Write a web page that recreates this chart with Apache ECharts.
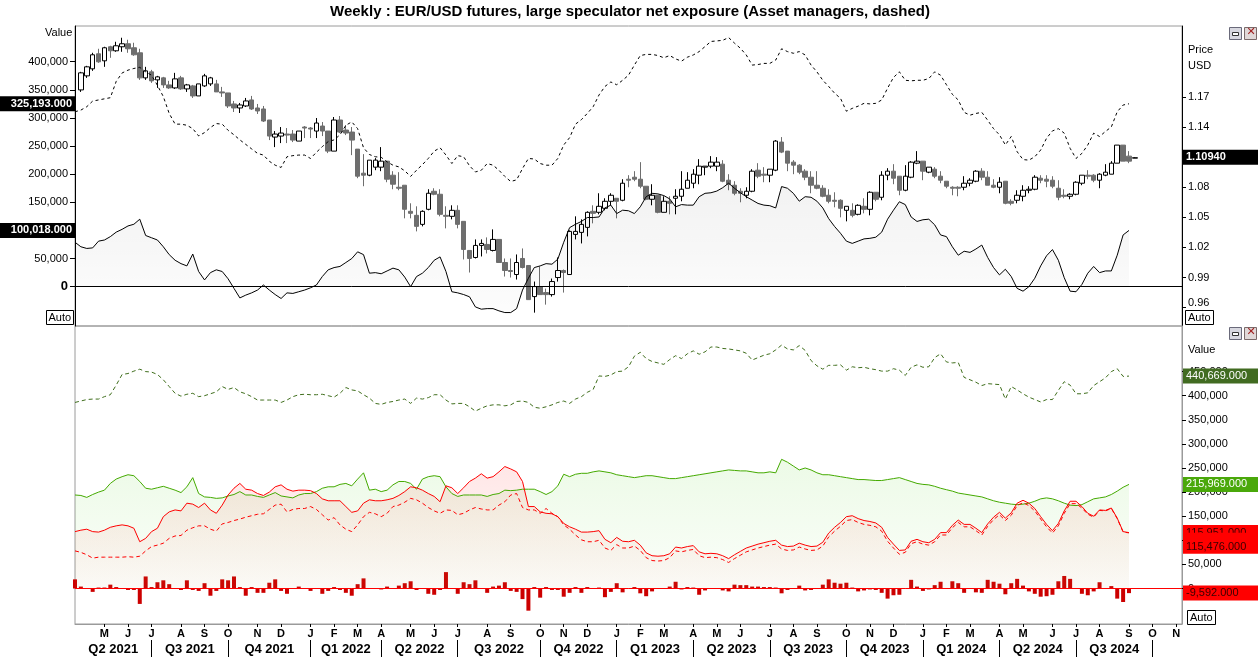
<!DOCTYPE html>
<html><head><meta charset="utf-8">
<script src="https://cdn.jsdelivr.net/npm/echarts@6/dist/echarts.min.js"></script>
<style>html,body{margin:0;padding:0;background:#fff}#c{width:1260px;height:660px}</style>
</head><body><div id="c"></div>
<script>
// ---------- DATA ----------
const firstWeek = '2021-04-02';   // weekly bars (Fridays)
const weekSlots = 189;            // slots on the time axis (data + empty future)
const MONTH_LETTERS = ['J','F','M','A','M','J','J','A','S','O','N','D'];
const quarterNames = ['Q2 2021','Q3 2021','Q4 2021','Q1 2022','Q2 2022','Q3 2022','Q4 2022','Q1 2023','Q2 2023','Q3 2023','Q4 2023','Q1 2024','Q2 2024','Q3 2024'];
const topValueTicks = [0,50000,100000,150000,200000,250000,300000,350000,400000];
const priceTicks = [0.96,0.99,1.02,1.05,1.08,1.14,1.17];
const bottomValueTicks = [0,50000,100000,150000,200000,250000,300000,350000,400000,450000];

// EUR/USD weekly candles [open, close, low, high]
const eurusd = ['-',
[1.177,1.194,1.175,1.195],[1.191,1.200,1.189,1.201],[1.198,1.212,1.196,1.214],[1.213,1.205,1.204,1.218],[1.206,1.219,1.200,1.220],
[1.220,1.216,1.209,1.221],[1.216,1.221,1.215,1.225],[1.220,1.223,1.215,1.229],[1.223,1.218,1.214,1.227],[1.219,1.212,1.211,1.224],
[1.214,1.189,1.187,1.218],[1.189,1.196,1.187,1.200],[1.195,1.186,1.184,1.197],[1.187,1.190,1.179,1.191],[1.189,1.182,1.179,1.190],
[1.182,1.179,1.178,1.186],[1.179,1.188,1.178,1.194],[1.189,1.178,1.177,1.191],[1.178,1.182,1.175,1.183],[1.181,1.171,1.169,1.182],
[1.171,1.183,1.171,1.183],[1.181,1.191,1.180,1.193],[1.183,1.189,1.181,1.190],[1.183,1.175,1.175,1.187],[1.175,1.174,1.170,1.180],
[1.174,1.161,1.159,1.174],[1.163,1.159,1.155,1.166],[1.159,1.162,1.154,1.164],[1.161,1.166,1.160,1.169],[1.167,1.158,1.157,1.171],
[1.159,1.156,1.153,1.163],[1.158,1.146,1.145,1.161],[1.147,1.131,1.127,1.147],[1.130,1.133,1.120,1.136],[1.131,1.134,1.124,1.140],
[1.133,1.132,1.124,1.139],[1.133,1.127,1.125,1.137],[1.126,1.136,1.126,1.136],[1.140,1.139,1.129,1.141],[1.139,1.138,1.129,1.140],
[1.136,1.144,1.129,1.149],[1.141,1.136,1.131,1.145],[1.136,1.116,1.114,1.136],[1.116,1.147,1.116,1.150],[1.147,1.135,1.134,1.151],
[1.137,1.134,1.132,1.142],[1.135,1.127,1.112,1.140],[1.118,1.091,1.089,1.118],[1.094,1.092,1.081,1.113],[1.092,1.107,1.091,1.107],
[1.100,1.107,1.097,1.109],[1.100,1.106,1.096,1.120],[1.106,1.088,1.085,1.106],[1.092,1.083,1.078,1.096],[1.080,1.079,1.077,1.095],
[1.082,1.058,1.049,1.082],[1.056,1.054,1.049,1.064],[1.052,1.041,1.036,1.061],[1.043,1.056,1.041,1.057],[1.058,1.074,1.057,1.078],
[1.076,1.073,1.072,1.079],[1.073,1.053,1.051,1.078],[1.052,1.051,1.039,1.061],[1.051,1.057,1.048,1.062],[1.057,1.043,1.039,1.062],
[1.046,1.018,1.008,1.046],[1.017,1.009,0.995,1.017],[1.010,1.022,1.009,1.028],[1.022,1.024,1.011,1.028],[1.023,1.018,1.014,1.030],
[1.017,1.028,1.016,1.038],[1.028,1.005,1.005,1.028],[1.005,0.997,0.991,1.009],[0.997,0.996,0.990,1.009],[0.993,1.005,0.988,1.013],
[1.009,1.000,0.999,1.019],[1.002,0.968,0.968,1.002],[0.971,0.981,0.955,0.986],[0.981,0.973,0.973,1.001],[0.975,0.973,0.963,0.979],
[0.973,0.986,0.971,0.989],[0.990,0.997,0.986,1.010],[0.997,0.995,0.975,0.998],[0.993,1.036,0.993,1.037],[1.033,1.036,1.028,1.051],
[1.035,1.043,1.024,1.048],[1.040,1.055,1.031,1.056],[1.056,1.054,1.044,1.062],[1.055,1.061,1.053,1.074],[1.059,1.066,1.057,1.069],
[1.066,1.072,1.062,1.074],[1.069,1.066,1.049,1.069],[1.067,1.084,1.066,1.088],[1.088,1.087,1.080,1.092],[1.090,1.088,1.086,1.096],
[1.088,1.081,1.079,1.105],[1.081,1.068,1.067,1.081],[1.068,1.072,1.062,1.083],[1.072,1.055,1.054,1.072],[1.055,1.066,1.055,1.071],
[1.066,1.064,1.053,1.071],[1.069,1.071,1.053,1.078],[1.071,1.078,1.066,1.096],[1.079,1.087,1.079,1.095],[1.084,1.093,1.079,1.098],
[1.092,1.101,1.083,1.108],[1.100,1.101,1.092,1.101],[1.101,1.105,1.099,1.111],[1.101,1.105,1.096,1.110],[1.103,1.086,1.085,1.107],
[1.087,1.083,1.077,1.093],[1.082,1.074,1.072,1.086],[1.076,1.074,1.065,1.079],[1.072,1.076,1.069,1.080],[1.076,1.096,1.075,1.098],
[1.097,1.091,1.089,1.104],[1.093,1.092,1.085,1.100],[1.092,1.098,1.085,1.098],[1.097,1.126,1.096,1.127],[1.125,1.115,1.114,1.130],
[1.116,1.104,1.096,1.116],[1.105,1.102,1.093,1.107],[1.102,1.095,1.093,1.103],[1.096,1.090,1.087,1.098],[1.090,1.082,1.074,1.096],
[1.082,1.079,1.078,1.096],[1.079,1.071,1.070,1.082],[1.072,1.066,1.064,1.078],[1.067,1.066,1.060,1.075],[1.067,1.059,1.050,1.068],
[1.057,1.061,1.046,1.061],[1.057,1.052,1.050,1.064],[1.053,1.062,1.052,1.063],[1.061,1.058,1.054,1.069],[1.058,1.075,1.052,1.076],
[1.075,1.068,1.066,1.075],[1.070,1.092,1.067,1.096],[1.092,1.096,1.087,1.099],[1.096,1.089,1.083,1.103],[1.091,1.077,1.072,1.091],
[1.077,1.091,1.076,1.102],[1.090,1.105,1.089,1.106],[1.104,1.106,1.103,1.116],[1.106,1.096,1.087,1.106],[1.095,1.100,1.094,1.100],
[1.098,1.091,1.089,1.100],[1.091,1.087,1.084,1.096],[1.086,1.081,1.079,1.086],[1.080,1.079,1.072,1.081],[1.080,1.079,1.071,1.081],
[1.080,1.084,1.077,1.091],[1.084,1.087,1.081,1.089],[1.086,1.096,1.085,1.097],[1.096,1.090,1.087,1.099],[1.090,1.082,1.082,1.096],
[1.082,1.080,1.079,1.088],[1.080,1.085,1.074,1.090],[1.086,1.064,1.063,1.086],[1.066,1.064,1.062,1.068],[1.067,1.072,1.064,1.077],
[1.071,1.077,1.066,1.082],[1.077,1.078,1.074,1.081],[1.078,1.090,1.077,1.092],[1.089,1.087,1.084,1.092],[1.088,1.086,1.080,1.092],
[1.087,1.081,1.079,1.091],[1.079,1.070,1.067,1.087],[1.072,1.071,1.069,1.078],[1.071,1.073,1.068,1.074],[1.073,1.085,1.072,1.086],
[1.084,1.092,1.082,1.092],[1.092,1.091,1.088,1.097],[1.092,1.087,1.085,1.093],[1.087,1.093,1.079,1.094],[1.092,1.095,1.091,1.103],
[1.093,1.104,1.093,1.106],[1.104,1.122,1.104,1.122],[1.122,1.106,1.106,1.122],[1.111,1.106,1.104,1.116],[1.109,1.1094,1.109,1.110]
];

// Large speculators net exposure (contracts)
const netExposure = [79000,71000,68000,69000,81000,83000,89000,97000,102000,108000,
111000,120000,91000,87000,83000,71000,57000,47000,41000,37000,
58000,27000,12000,25000,30000,27000,14000,-3000,-20000,-15000,
-11000,-6000,3000,-6000,-14000,-21000,-11000,-12000,-9000,-6000,
-2000,3000,18000,30000,34000,36000,43000,50000,62000,57000,
24000,25000,23000,28000,33000,30000,17000,0,18000,24000,
34000,47000,53000,27000,-9000,-11000,-14000,-18000,-36000,-40000,
-39000,-39000,-43000,-46000,-46000,-39000,-6000,15000,34000,37000,
41000,40000,49000,79000,105000,111000,116000,123000,123000,124000,
140000,145000,130000,136000,135000,130000,142000,160000,166000,165000,
162000,156000,142000,146000,145000,145000,160000,166000,167000,170000,
176000,184000,175000,167000,160000,154000,148000,145000,144000,140000,
178000,175000,166000,152000,160000,159000,152000,140000,121000,107000,
95000,81000,77000,81000,85000,86000,88000,97000,120000,136000,
151000,146000,124000,116000,119000,120000,110000,92000,89000,71000,
56000,63000,61000,67000,74000,52000,34000,21000,31000,18000,
-3000,-8000,0,15000,37000,55000,66000,47000,16000,-8000,
-9000,4000,24000,36000,25000,28000,28000,56000,92000,100018];

// Asset managers net exposure (contracts)
const amNet = [311000,314000,320000,330000,332000,334000,336000,365000,380000,385000,
388000,390000,382000,376000,358000,338000,308000,289000,289000,287000,
281000,268000,274000,283000,290000,289000,278000,270000,261000,253000,
245000,237000,234000,223000,216000,212000,231000,233000,234000,234000,
228000,239000,249000,258000,261000,270000,287000,293000,281000,247000,
235000,231000,230000,222000,216000,213000,206000,196000,207000,217000,
228000,241000,247000,234000,219000,233000,231000,215000,204000,207000,
219000,216000,207000,196000,187000,190000,210000,228000,227000,219000,
216000,216000,228000,252000,265000,289000,297000,308000,320000,341000,
356000,364000,359000,367000,376000,394000,411000,413000,413000,411000,
407000,411000,405000,401000,408000,412000,418000,427000,436000,437000,
438000,443000,433000,424000,412000,394000,395000,397000,397000,403000,
423000,418000,415000,418000,412000,394000,382000,367000,356000,344000,
335000,312000,317000,321000,326000,325000,326000,332000,353000,372000,
382000,367000,366000,367000,367000,370000,382000,376000,359000,342000,
332000,310000,305000,308000,310000,296000,281000,270000,252000,267000,
240000,226000,225000,231000,243000,264000,277000,281000,273000,246000,
228000,237000,252000,273000,267000,276000,284000,311000,323000,325193];

// Large speculators long positions
const specLong = [194000,193000,189000,195000,200000,204000,218000,227000,232000,236000,
234000,222000,208000,206000,209000,212000,208000,204000,199000,211000,
230000,197000,190000,189000,187000,188000,192000,195000,201000,194000,
194000,191000,189000,194000,199000,192000,190000,188000,194000,197000,
197000,201000,208000,211000,211000,216000,218000,213000,227000,240000,
204000,206000,201000,204000,215000,222000,222000,218000,206000,227000,
232000,234000,232000,211000,197000,191000,194000,194000,194000,194000,
191000,195000,197000,204000,203000,204000,206000,206000,206000,201000,
195000,201000,213000,237000,232000,237000,239000,239000,242000,244000,
242000,240000,236000,234000,232000,230000,232000,234000,234000,232000,
230000,228000,228000,230000,232000,234000,236000,238000,240000,242000,
244000,246000,245000,244000,244000,242000,240000,240000,242000,240000,
268000,262000,254000,246000,250000,246000,240000,236000,236000,234000,
232000,230000,228000,226000,226000,225000,224000,224000,226000,228000,
230000,226000,222000,218000,216000,215000,212000,208000,205000,202000,
198000,196000,194000,192000,190000,186000,182000,179000,177000,175000,
174000,175000,177000,181000,186000,188000,186000,182000,177000,173000,
172000,174000,180000,186000,188000,190000,195000,202000,210000,215969];

// Large speculators short positions
const specShort = [118000,121000,123000,118000,117000,121000,127000,130000,132000,130000,
125000,97000,104000,118000,125000,149000,159000,163000,161000,177000,
175000,168000,177000,163000,156000,173000,194000,208000,218000,206000,
204000,197000,193000,200000,211000,215000,206000,202000,204000,204000,
203000,197000,186000,182000,182000,182000,170000,158000,161000,177000,
184000,182000,182000,184000,187000,193000,201000,211000,209000,204000,
197000,191000,180000,213000,209000,197000,209000,222000,229000,238000,
229000,232000,242000,253000,248000,242000,222000,170000,170000,159000,
156000,155000,149000,135000,128000,123000,117000,117000,118000,120000,
102000,95000,106000,98000,97000,100000,90000,74000,68000,67000,
68000,72000,86000,84000,87000,89000,76000,72000,73000,72000,
68000,62000,70000,77000,84000,88000,92000,95000,98000,100000,
90000,87000,88000,94000,90000,87000,88000,96000,115000,127000,
137000,149000,151000,145000,141000,139000,136000,127000,106000,92000,
79000,80000,98000,102000,97000,95000,102000,116000,116000,131000,
142000,133000,133000,125000,116000,134000,148000,158000,146000,157000,
177000,183000,177000,166000,149000,133000,120000,135000,161000,181000,
181000,170000,156000,150000,163000,162000,167000,146000,118000,115951];

// Asset managers long positions
const amLong = [386000,389000,392000,393000,393000,398000,402000,422000,444000,446000,
451000,455000,450000,449000,444000,433000,419000,405000,399000,403000,
405000,398000,400000,404000,408000,419000,413000,417000,408000,404000,
398000,391000,391000,391000,391000,386000,391000,398000,402000,403000,
402000,402000,403000,400000,397000,405000,417000,412000,410000,402000,
395000,384000,382000,386000,388000,391000,393000,384000,395000,393000,
396000,402000,402000,391000,383000,384000,384000,377000,368000,374000,
379000,381000,381000,379000,381000,388000,389000,386000,376000,374000,
377000,381000,386000,389000,384000,393000,398000,407000,413000,441000,
440000,443000,450000,451000,460000,482000,490000,477000,471000,468000,
465000,475000,483000,477000,487000,493000,486000,491000,501000,501000,
498000,497000,495000,493000,488000,474000,479000,484000,487000,495000,
505000,497000,495000,504000,494000,473000,462000,455000,463000,463000,
464000,453000,460000,458000,459000,456000,454000,451000,451000,456000,
453000,442000,459000,464000,459000,460000,479000,487000,470000,468000,
469000,438000,433000,428000,421000,425000,424000,423000,393000,419000,
412000,404000,397000,392000,387000,392000,392000,411000,429000,422000,
404000,404000,406000,421000,429000,437000,450000,456000,440000,440669];

// Asset managers short positions
const amShort = [78000,75000,70000,63000,65000,65000,65000,65000,65000,66000,
65000,67000,78000,87000,90000,94000,104000,109000,110000,121000,
126000,130000,130000,123000,119000,134000,137000,141000,144000,148000,
151000,154000,155000,164000,173000,175000,159000,164000,166000,166000,
170000,164000,153000,142000,147000,132000,123000,118000,132000,149000,
158000,155000,149000,156000,170000,173000,179000,187000,184000,177000,
168000,161000,156000,163000,162000,153000,156000,163000,168000,165000,
163000,163000,173000,180000,194000,197000,168000,163000,163000,156000,
166000,156000,149000,132000,123000,111000,101000,97000,97000,100000,
84000,79000,91000,84000,84000,88000,79000,64000,58000,57000,
58000,64000,78000,76000,79000,81000,68000,64000,65000,64000,
60000,54000,62000,69000,76000,80000,84000,87000,90000,92000,
82000,79000,80000,86000,82000,79000,80000,88000,107000,119000,
129000,141000,143000,137000,133000,131000,128000,119000,98000,84000,
71000,75000,93000,97000,92000,90000,97000,111000,111000,126000,
137000,128000,128000,120000,111000,129000,143000,153000,141000,152000,
172000,178000,172000,161000,144000,128000,115000,130000,156000,176000,
176000,167000,154000,148000,162000,161000,166000,145000,117000,115476];

// Weekly change in large speculators short positions
const shortChange = [19000,4000,0,-7000,2000,2000,8000,3000,0,-3000,
-3000,-32000,25000,3000,13000,17000,9000,0,-3000,17000,
-3000,-5000,11000,-15000,-5000,19000,17000,25000,3000,-15000,
3000,-9000,-9000,12000,19000,-5000,-11000,0,4000,0,
-5000,0,-11000,-5000,3000,-3000,-9000,-15000,9000,21000,
0,0,-2000,4000,0,6000,11000,15000,-3000,0,
-11000,-13000,-3000,34000,0,-11000,13000,9000,17000,0,
-9000,4000,6000,13000,-5000,-7000,-22000,-46000,3000,-19000,
3000,-3000,-3000,-17000,-9000,3000,-9000,3000,0,2000,
-18000,-7000,11000,-8000,-1000,3000,-10000,-16000,-6000,-1000,
1000,4000,14000,-2000,3000,2000,-13000,-4000,1000,-1000,
-4000,-6000,8000,7000,7000,4000,4000,3000,3000,2000,
-10000,-3000,1000,6000,-4000,-3000,1000,8000,19000,12000,
10000,12000,2000,-6000,-4000,-2000,-3000,-9000,-21000,-14000,
-13000,1000,18000,4000,-5000,-2000,7000,14000,0,15000,
11000,-9000,0,-8000,-9000,18000,14000,10000,-12000,11000,
20000,6000,-6000,-11000,-17000,-16000,-13000,15000,26000,20000,
0,-11000,-14000,-6000,13000,-1000,5000,-21000,-28000,-9592];

// ---------- AXIS HELPERS ----------
const weekDates = [];
{ const t0 = Date.parse(firstWeek + 'T00:00:00Z');
  for (let i = 0; i < weekSlots; i++) weekDates.push(new Date(t0 + i * 7 * 86400000).toISOString().slice(0, 10)); }
const monthOf = i => +weekDates[i].slice(5, 7) - 1;
const isMonthStart = i => i > 0 && monthOf(i) !== monthOf(i - 1);
const quarterStarts = [];
for (let i = 1; i < weekSlots; i++) if (isMonthStart(i) && monthOf(i) % 3 === 0) quarterStarts.push(i);
const qBounds = [0].concat(quarterStarts);
const quarterMids = [];
for (let q = 0; q < quarterNames.length; q++) quarterMids.push((qBounds[q] + qBounds[q + 1]) / 2);
const fmtInt = v => Math.round(v).toLocaleString('en-US');
const fmtBadge = v => v.toLocaleString('en-US', { minimumFractionDigits: 3, maximumFractionDigits: 3 });
const last = a => a[a.length - 1];
const FONT = 'Liberation Sans, Arial, sans-serif';
const CLEAR = 'rgba(0,0,0,0)';

const chart = echarts.init(document.getElementById('c'), null, { renderer: 'canvas' });

function badge(value, text, side, bg, fg, bold, extra) {
  return {
    yAxis: value,
    lineStyle: { color: CLEAR, width: 1, type: 'solid' },
    label: Object.assign({
      show: true, position: side, formatter: text, distance: side === 'start' ? 0 : 1,
      backgroundColor: bg, color: fg, fontFamily: FONT, fontSize: 11, fontWeight: bold ? 'bold' : 'normal',
      padding: [2, 3, 1, 3], lineHeight: 12, width: 69, align: side === 'start' ? 'right' : 'left'
    }, extra || {})
  };
}
const titleText = { fontSize: 11, fontWeight: 'normal', color: '#000', fontFamily: FONT };

const option = {
  animation: false,
  backgroundColor: '#fff',
  textStyle: { fontFamily: FONT },
  title: [
    { text: 'Weekly : EUR/USD futures, large speculator net exposure (Asset managers, dashed)', left: 'center', top: 4, padding: 0,
      textStyle: { fontSize: 15, fontWeight: 'bold', color: '#000', fontFamily: FONT } },
    { text: 'Value', left: 45, top: 27, padding: 0, textStyle: titleText },
    { text: 'Price', left: 1188, top: 44, padding: 0, textStyle: titleText },
    { text: 'USD', left: 1188, top: 60, padding: 0, textStyle: titleText },
    { text: 'Value', left: 1188, top: 344, padding: 0, textStyle: titleText }
  ],
  grid: [
    { left: 75, right: 78, top: 26, height: 300, show: true, borderColor: '#9a9a9a', borderWidth: 1, backgroundColor: 'transparent' },
    { left: 75, right: 78, top: 326, height: 298, show: true, borderColor: '#9a9a9a', borderWidth: 1, backgroundColor: 'transparent' }
  ],
  xAxis: [
    { type: 'category', gridIndex: 0, data: weekDates, boundaryGap: false,
      axisLine: { show: false, onZero: false }, axisTick: { show: false }, axisLabel: { show: false }, splitLine: { show: false } },
    { type: 'category', gridIndex: 1, data: weekDates, boundaryGap: false, position: 'bottom',
      axisLine: { show: true, onZero: false, lineStyle: { color: '#9a9a9a' } },
      axisTick: { show: true, interval: isMonthStart, length: 3, lineStyle: { color: '#000' } },
      axisLabel: { show: true, interval: isMonthStart, formatter: (v, i) => MONTH_LETTERS[monthOf(i)],
        margin: 4, fontSize: 11, fontWeight: 'bold', color: '#000', fontFamily: FONT },
      splitLine: { show: false } },
    { type: 'value', gridIndex: 1, min: 0, max: weekSlots - 1, position: 'bottom', offset: 16,
      axisLine: { show: false, onZero: false }, splitLine: { show: false },
      axisTick: { show: true, customValues: quarterStarts, length: 17, lineStyle: { color: '#000' } },
      axisLabel: { show: true, customValues: quarterMids, margin: 3, fontSize: 13, fontWeight: 'bold', color: '#000', fontFamily: FONT,
        formatter: v => { const q = quarterMids.indexOf(v); return q >= 0 ? quarterNames[q] : ''; } } }
  ],
  yAxis: [
    { type: 'value', gridIndex: 0, position: 'left', min: -69900, max: 463500,
      axisLine: { show: true, onZero: false, lineStyle: { color: '#000' } }, splitLine: { show: false },
      axisTick: { show: true, customValues: topValueTicks, length: 5, lineStyle: { color: '#000' } },
      axisLabel: { show: true, customValues: topValueTicks, margin: 7, fontSize: 11, color: '#000', fontFamily: FONT,
        formatter: v => v === 0 ? '{z|0}' : fmtInt(v), rich: { z: { fontSize: 13, fontWeight: 'bold', color: '#000' } } } },
    { type: 'value', gridIndex: 0, position: 'right', min: 0.9417, max: 1.2407,
      axisLine: { show: true, onZero: false, lineStyle: { color: '#000' } }, splitLine: { show: false },
      axisTick: { show: true, customValues: priceTicks, length: 4, lineStyle: { color: '#000' } },
      axisLabel: { show: true, customValues: priceTicks, margin: 6, fontSize: 11, color: '#000', fontFamily: FONT,
        formatter: v => Math.abs(v - 0.96) < 1e-6 ? '{lo|0.96}' : v.toFixed(2),
        rich: { lo: { fontSize: 11, color: '#000', padding: [0, 0, 10, 0] } } } },
    { type: 'value', gridIndex: 1, position: 'right', min: -73650, max: 544600,
      axisLine: { show: true, onZero: false, lineStyle: { color: '#9a9a9a' } }, splitLine: { show: false },
      axisTick: { show: true, customValues: bottomValueTicks, length: 4, lineStyle: { color: '#000' } },
      axisLabel: { show: true, customValues: bottomValueTicks, margin: 6, fontSize: 11, color: '#000', fontFamily: FONT,
        formatter: v => fmtInt(v) } }
  ],
  series: [
    { name: 'Net exposure', type: 'line', xAxisIndex: 0, yAxisIndex: 0, data: netExposure, symbol: 'none',
      lineStyle: { color: '#000', width: 1 }, itemStyle: { color: '#000' },
      areaStyle: { origin: 0, color: new echarts.graphic.LinearGradient(0, 0, 0, 1, [
        { offset: 0, color: 'rgba(0,0,0,0.075)' }, { offset: 1, color: 'rgba(0,0,0,0.015)' }]) },
      markLine: { silent: true, symbol: 'none', animation: false,
        data: [
          { yAxis: 0, lineStyle: { color: '#000', width: 1, type: 'solid' }, label: { show: false } },
          badge(last(netExposure), fmtBadge(last(netExposure)), 'start', '#000', '#fff', true)
        ] } },
    { name: 'Asset managers', type: 'line', xAxisIndex: 0, yAxisIndex: 0, data: amNet, symbol: 'none',
      lineStyle: { color: '#000', width: 1, type: [3, 3] }, itemStyle: { color: '#000' },
      markLine: { silent: true, symbol: 'none', animation: false,
        data: [ badge(last(amNet), fmtBadge(last(amNet)), 'start', '#000', '#fff', true) ] } },
    { name: 'EUR/USD', type: 'candlestick', xAxisIndex: 0, yAxisIndex: 1, data: eurusd, barWidth: 5,
      itemStyle: { color: '#ffffff', color0: '#6e6e6e', borderColor: '#000', borderColor0: '#6e6e6e', borderWidth: 1 },
      markLine: { silent: true, symbol: 'none', animation: false,
        data: [ badge(last(eurusd)[1], last(eurusd)[1].toFixed(5), 'end', '#000', '#fff', true) ] } },

    { name: 'Long', type: 'line', xAxisIndex: 1, yAxisIndex: 2, data: specLong, symbol: 'none',
      lineStyle: { color: '#44aa00', width: 1 }, itemStyle: { color: '#44aa00' },
      areaStyle: { origin: 0, color: new echarts.graphic.LinearGradient(0, 0, 0, 1, [
        { offset: 0, color: 'rgba(120,220,80,0.2)' }, { offset: 1, color: 'rgba(120,220,80,0.04)' }]) },
      markLine: { silent: true, symbol: 'none', animation: false,
        data: [ badge(last(specLong), fmtBadge(last(specLong)), 'end', '#4aa80a', '#fff', false) ] } },
    { name: 'Short', type: 'line', xAxisIndex: 1, yAxisIndex: 2, data: specShort, symbol: 'none',
      lineStyle: { color: '#ff0000', width: 1 }, itemStyle: { color: '#ff0000' },
      areaStyle: { origin: 0, color: new echarts.graphic.LinearGradient(0, 0, 0, 1, [
        { offset: 0, color: 'rgba(255,60,60,0.18)' }, { offset: 1, color: 'rgba(255,60,60,0.03)' }]) },
      markLine: { silent: true, symbol: 'none', animation: false,
        data: [ badge(last(specShort), fmtBadge(last(specShort)), 'end', '#ff0000', '#3a0000', false) ] } },
    { name: 'AM short', type: 'line', xAxisIndex: 1, yAxisIndex: 2, data: amShort, symbol: 'none',
      lineStyle: { color: '#ff0000', width: 1, type: [4, 3] }, itemStyle: { color: '#ff0000' },
      markLine: { silent: true, symbol: 'none', animation: false,
        data: [ badge(last(amShort), fmtBadge(last(amShort)), 'end', '#ff0000', '#3a0000', false,
          { verticalAlign: 'top', padding: [8, 3, 1, 3] }) ] } },
    { name: 'AM long', type: 'line', xAxisIndex: 1, yAxisIndex: 2, data: amLong, symbol: 'none',
      lineStyle: { color: '#3f6e1c', width: 1, type: [4, 3] }, itemStyle: { color: '#3f6e1c' },
      markLine: { silent: true, symbol: 'none', animation: false,
        data: [ badge(last(amLong), fmtBadge(last(amLong)), 'end', '#416b21', '#fff', false) ] } },
    { name: 'Change', type: 'bar', xAxisIndex: 1, yAxisIndex: 2, data: shortChange, barWidth: 4,
      itemStyle: { color: '#cc0000' },
      markLine: { silent: true, symbol: 'none', animation: false,
        data: [
          { yAxis: 0, lineStyle: { color: '#ff0000', width: 1, type: 'solid' }, label: { show: false } },
          badge(last(shortChange), fmtBadge(last(shortChange)), 'end', '#ff0000', '#3a0000', false)
        ] } }
  ],
  graphic: [
    { type: 'rect', shape: { x: 46.5, y: 310.5, width: 27, height: 14 }, style: { fill: '#fff', stroke: '#000', lineWidth: 1 } },
    { type: 'text', x: 48.5, y: 312, style: { text: 'Auto', font: '11px ' + FONT, fill: '#000' } },
    { type: 'rect', shape: { x: 1185.5, y: 310.5, width: 28, height: 14 }, style: { fill: '#fff', stroke: '#000', lineWidth: 1 } },
    { type: 'text', x: 1188, y: 312, style: { text: 'Auto', font: '11px ' + FONT, fill: '#000' } },
    { type: 'rect', shape: { x: 1187.5, y: 610.5, width: 28, height: 14 }, style: { fill: '#fff', stroke: '#000', lineWidth: 1 } },
    { type: 'text', x: 1190, y: 612, style: { text: 'Auto', font: '11px ' + FONT, fill: '#000' } },
    { type: 'rect', shape: { x: 1229.5, y: 27.5, width: 12, height: 12 }, style: { fill: '#d8d8e0', stroke: '#6a6a7a', lineWidth: 1 } },
    { type: 'rect', shape: { x: 1232.5, y: 32.5, width: 6, height: 3 }, style: { fill: '#fff', stroke: '#333', lineWidth: 1 } },
    { type: 'rect', shape: { x: 1244.5, y: 27.5, width: 12, height: 12 }, style: { fill: '#e0d8d8', stroke: '#7a6a6a', lineWidth: 1 } },
    { type: 'text', x: 1246.5, y: 27, style: { text: '✕', font: 'bold 11px DejaVu Sans', fill: '#a02020' } },
    { type: 'rect', shape: { x: 1229.5, y: 327.5, width: 12, height: 12 }, style: { fill: '#d8d8e0', stroke: '#6a6a7a', lineWidth: 1 } },
    { type: 'rect', shape: { x: 1232.5, y: 332.5, width: 6, height: 3 }, style: { fill: '#fff', stroke: '#333', lineWidth: 1 } },
    { type: 'rect', shape: { x: 1244.5, y: 327.5, width: 12, height: 12 }, style: { fill: '#e0d8d8', stroke: '#7a6a6a', lineWidth: 1 } },
    { type: 'text', x: 1246.5, y: 327, style: { text: '✕', font: 'bold 11px DejaVu Sans', fill: '#a02020' } }
  ]
};
chart.setOption(option);
</script>
</body></html>
